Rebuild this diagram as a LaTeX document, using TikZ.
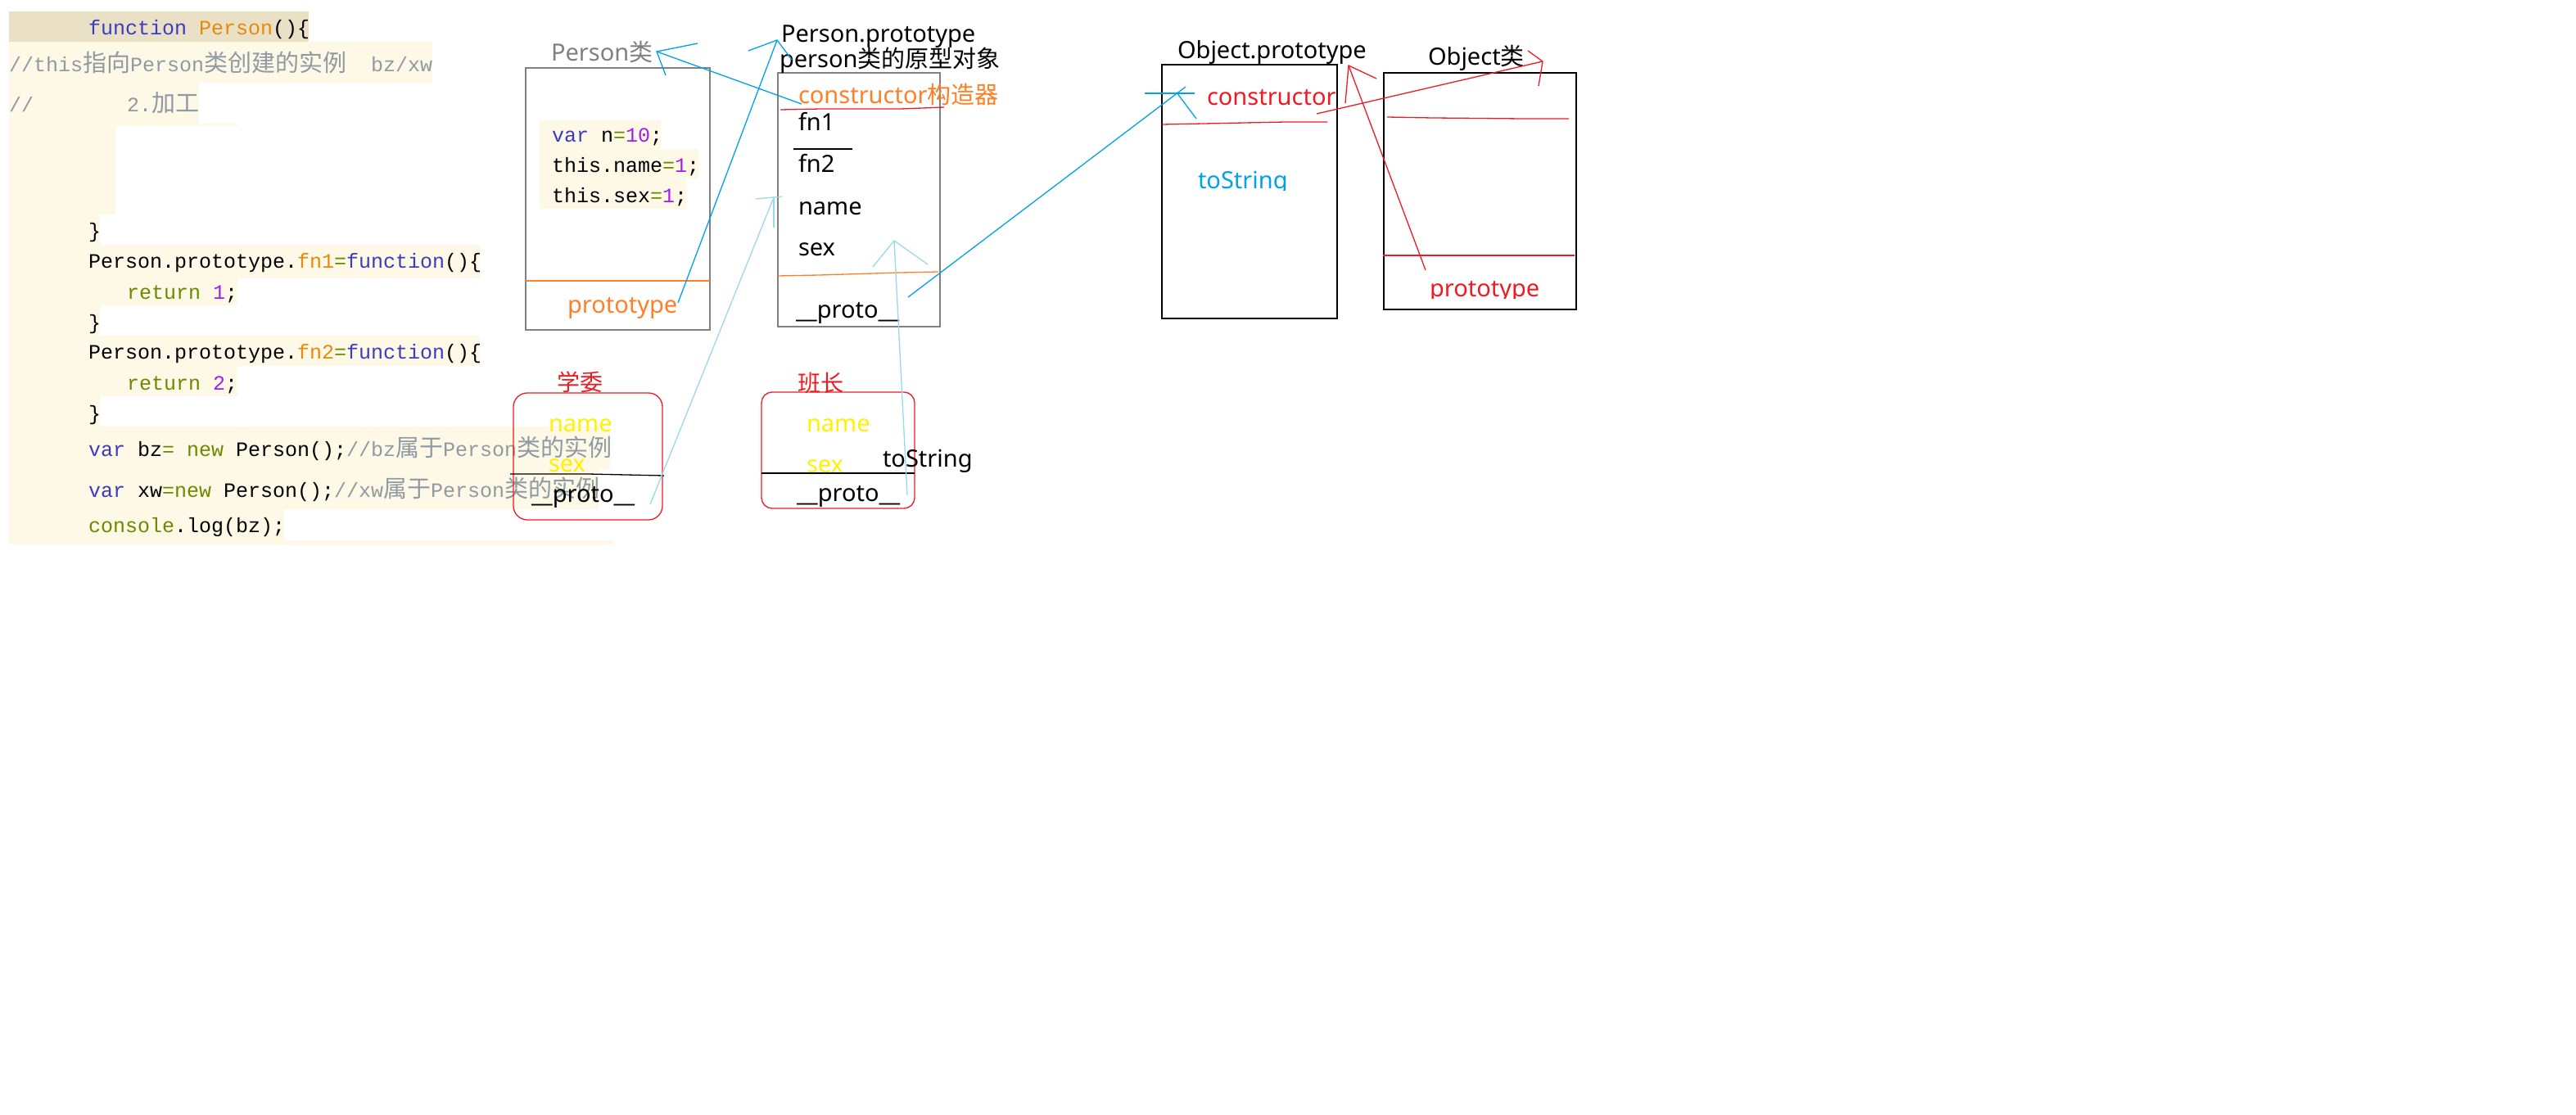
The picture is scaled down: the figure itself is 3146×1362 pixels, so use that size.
\documentclass[tikz,border=0pt]{standalone}
\usepackage{fontspec}
\setmainfont{Noto Sans}
\newfontfamily\cjk{Noto Sans CJK SC}
\newfontfamily\monof{Liberation Mono}
\definecolor{kwc}{HTML}{3C3CC0}
\definecolor{fnc}{HTML}{E58A0E}
\definecolor{cmc}{HTML}{8E9BA3}
\definecolor{olc}{HTML}{6A8A00}
\definecolor{nmc}{HTML}{A31EEA}
\definecolor{tanc}{HTML}{E9E0C5}
\definecolor{crmc}{HTML}{FEF8E6}
\definecolor{gbx}{HTML}{808080}
\definecolor{orc}{HTML}{FF7F27}
\definecolor{rdc}{HTML}{ED1C24}
\definecolor{blc}{HTML}{00A2E8}
\definecolor{lbc}{HTML}{99D9EA}
\definecolor{ylc}{HTML}{FFF200}
\newcommand\cdf{\monof\fontsize{25}{30}\selectfont}
\newcommand\lbf{\fontsize{29}{34}\selectfont}
\newcommand\zc[1]{{\cjk\fontsize{29}{30}\selectfont #1}}
\newcommand\tkw[1]{\textcolor{kwc}{#1}}
\newcommand\tfn[1]{\textcolor{fnc}{#1}}
\newcommand\tcm[1]{\textcolor{cmc}{#1}}
\newcommand\tol[1]{\textcolor{olc}{#1}}
\newcommand\tnm[1]{\textcolor{nmc}{#1}}
\begin{document}
\begin{tikzpicture}[x=1pt,y=-1pt,
  every node/.style={inner sep=0pt,outer sep=0pt,anchor=base west},
  code/.style={font=\cdf},
  lbl/.style={font=\lbf},
  boxg/.style={draw=gbx,line width=1.3pt,anchor=north west},
  boxk/.style={draw=black,line width=1.3pt,anchor=north west},
  boxr/.style={draw=rdc,line width=1.3pt,anchor=north west},
  arb/.style={draw=blc,line width=1.3pt},
  arl/.style={draw=lbc,line width=1.3pt},
  arr/.style={draw=rdc,line width=1.3pt},
  lno/.style={line width=1.3pt}]
\useasboundingbox (0,0) rectangle (3146,1362);
\fill[white] (0,0) rectangle (3146,1362);
% code backgrounds
\fill[tanc] (11,14) rectangle (377,51);
\fill[crmc] (11,51) rectangle (528,101);
\fill[crmc] (11,101) rectangle (243,151);
\fill[crmc] (141,151) rectangle (290,154);
\fill[crmc] (11,151) rectangle (141,262);
\fill[crmc] (11,262) rectangle (122,299);
\fill[crmc] (11,299) rectangle (586,340);
\fill[crmc] (11,335) rectangle (290,373);
\fill[crmc] (11,373) rectangle (122,410);
\fill[crmc] (11,410) rectangle (586,447);
\fill[crmc] (11,447) rectangle (290,484);
\fill[crmc] (11,484) rectangle (122,521);
\fill[crmc] (11,521) rectangle (745,573);
\fill[crmc] (11,573) rectangle (731,622);
\fill[crmc] (11,622) rectangle (347,660);
\fill[crmc] (11,660) rectangle (750,665);
% code lines
\node[code] (c1) at (108,43) {\tkw{function} \tfn{Person}()\{};
\node[code] (c2) at (11,88) {\tcm{//this\zc{指向}Person\zc{类创建的实例}\ \ bz/xw}};
\node[code] (c3a) at (11,137) {\tcm{//}};
\node[code] (c3b) at (155,137) {\tcm{2.\zc{加工}}};
\node[code] (c4) at (108,290) {\}};
\node[code] (c5) at (108,327) {Person.prototype.\tfn{fn1}\tol{=}\tkw{function}()\{};
\node[code] (c6) at (155,365) {\tol{return} \tnm{1};};
\node[code] (c7) at (108,402) {\}};
\node[code] (c8) at (108,438) {Person.prototype.\tfn{fn2}\tol{=}\tkw{function}()\{};
\node[code] (c9) at (155,476) {\tol{return} \tnm{2};};
\node[code] (c10) at (108,513) {\}};
\node[code] (c11) at (108,557) {\tkw{var} bz\tol{=} \tol{new} Person();\tcm{//bz\zc{属于}Person\zc{类的实例}}};
\node[code] (c12) at (108,607) {\tkw{var} xw\tol{=}\tol{new} Person();\tcm{//xw\zc{属于}Person\zc{类的实例}}};
\node[code] (c13) at (108,650) {\tol{console}.log(bz);};
% Person class box
\node[boxg,minimum width=225,minimum height=320] (pbox) at (642,83) {};
\draw[orc,lno] (642,343) -- (867,343);
\node[lbl,text=gbx] (pname) at (673,75) {Person{\cjk 类}};
\node[lbl,text=orc] (pproto) at (693,382) {prototype};
\fill[crmc] (659,147) rectangle (807,182);
\fill[crmc] (659,182) rectangle (853,218);
\fill[crmc] (659,218) rectangle (838,255);
\node[code] (i1) at (674,173) {\tkw{var} n\tol{=}\tnm{10};};
\node[code] (i2) at (674,210) {this.name\tol{=}\tnm{1};};
\node[code] (i3) at (674,247) {this.sex\tol{=}\tnm{1};};
% Person.prototype box
\node[boxg,minimum width=198,minimum height=310] (ppbox) at (950,89) {};
\node[lbl] (pptitle) at (954,52) {Person.prototype};
\node[lbl] (pptitle2) at (952,83) {person{\cjk 类的原型对象}};
\node[lbl,text=orc] (ppcons) at (975,127) {constructor{\cjk 构造器}};
\draw[rdc,lno] (953,134) -- (1003,133) -- (1100,133) -- (1153,131);
\node[lbl] (fn1) at (975,160) {fn1};
\draw[lno] (969,182) -- (1041,182);
\node[lbl] (fn2) at (975,210) {fn2};
\node[lbl] (ppname) at (975,262) {name};
\node[lbl] (ppsex) at (975,312) {sex};
\draw[orc,lno] (950,337) -- (1000,336) -- (1100,333) -- (1146,332);
\node[lbl] (ppproto) at (972,388) {\_\_proto\_\_};
% Object.prototype box
\node[boxk,minimum width=214,minimum height=310] (opbox) at (1419,79) {};
\node[lbl] (optitle) at (1438,72) {Object.prototype};
\node[lbl,text=rdc] (opcons) at (1474,129) {constructor};
\draw[rdc,lno] (1419,152) -- (1470,151) -- (1570,149) -- (1621,149);
\begin{scope}
\clip (1440,190) rectangle (1600,232);
\node[lbl,text=blc] (opts) at (1463,230) {toString};
\end{scope}
% Object class box
\node[boxk,minimum width=235,minimum height=289] (obox) at (1690,89) {};
\node[lbl] (otitle) at (1744,80) {Object{\cjk 类}};
\draw[rdc,lno] (1694,143) -- (1750,144) -- (1860,145) -- (1916,145);
\draw[rdc,lno] (1689,312) -- (1923,312);
\begin{scope}
\clip (1730,320) rectangle (1900,364);
\node[lbl,text=rdc] (oproto) at (1746,362) {prototype};
\end{scope}
% instance xuewei
\node[boxr,rounded corners=17,minimum width=182,minimum height=155] (xw) at (627,480) {};
\node[text=rdc,font=\cjk\fontsize{28}{30}\selectfont] (xwt) at (680,477) {学委};
\node[lbl,text=ylc] (xwname) at (670,527) {name};
\node[lbl,text=ylc] (xwsex) at (670,576) {sex};
\draw[lno] (623,579) -- (718,579) -- (811,581);
\node[lbl] (xwproto) at (649,613) {\_\_proto\_\_};
% instance banzhang
\node[boxr,rounded corners=13,minimum width=187,minimum height=142] (bz) at (930,479) {};
\node[text=rdc,font=\cjk\fontsize{28}{30}\selectfont] (bzt) at (974,478) {班长};
\node[lbl,text=ylc] (bzname) at (985,527) {name};
\node[lbl,text=ylc] (bzsex) at (985,577) {sex};
\draw[lno] (930,578) -- (1117,578);
\node[lbl] (bzproto) at (973,612) {\_\_proto\_\_};
\node[lbl] (ts) at (1078,570) {toString};
% arrow coordinates
\coordinate (aS) at (1109,363); \coordinate (aE) at (1448,106); \coordinate (aT) at (1437,113);
\coordinate (aB1) at (1461,145); \coordinate (aH1) at (1398,114); \coordinate (aH2) at (1459,114);
\coordinate (bS) at (828,370); \coordinate (bT) at (949,49); \coordinate (bB1) at (914,62); \coordinate (bB2) at (967,73);
\coordinate (cS) at (979,127); \coordinate (cT) at (802,63); \coordinate (cB1) at (852,53); \coordinate (cB2) at (813,92);
\coordinate (dS) at (794,616); \coordinate (dT) at (945,241); \coordinate (dB1) at (923,243); \coordinate (dB2) at (955,240); \coordinate (dB3) at (945,278);
\coordinate (eS) at (1108,605); \coordinate (eT) at (1092,294); \coordinate (eB1) at (1066,326); \coordinate (eB2) at (1133,323);
\coordinate (fS) at (1741,330); \coordinate (fT) at (1647,80); \coordinate (fB1) at (1643,126); \coordinate (fB2) at (1681,96);
\coordinate (gS) at (1608,139); \coordinate (gT) at (1884,75); \coordinate (gB1) at (1879,105); \coordinate (gB2) at (1866,62);
% blue arrows
\draw[arb] (aS) -- (aE);
\draw[arb] (aT) -- (aB1);
\draw[arb] (aH1) -- (aH2);
\draw[arb] (bS) -- (bT);
\draw[arb] (bB1) -- (bT) -- (bB2);
\draw[arb] (cS) -- (cT);
\draw[arb] (cB1) -- (cT) -- (cB2);
% light blue arrows
\draw[arl] (dS) -- (dT);
\draw[arl] (dB1) -- (dB2);
\draw[arl] (dT) -- (dB3);
\draw[arl] (eS) -- (eT);
\draw[arl] (eB1) -- (eT) -- (eB2);
% red arrows
\draw[arr] (fS) -- (fT);
\draw[arr] (fB1) -- (fT) -- (fB2);
\draw[arr] (gS) -- (gT);
\draw[arr] (gB1) -- (gT) -- (gB2);
\end{tikzpicture}
\end{document}
